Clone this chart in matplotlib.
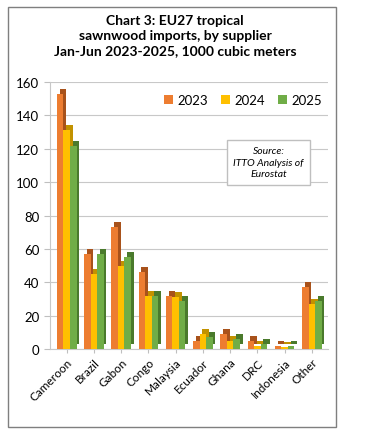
import matplotlib.pyplot as plt
import numpy as np
from matplotlib.patches import Rectangle

plt.rcParams['font.family'] = ['Lato', 'DejaVu Sans']

suppliers = ["Cameroon", "Brazil", "Gabon", "Congo", "Malaysia", "Ecuador",
             "Ghana", "DRC", "Indonesia", "Other"]
v2023 = [153, 57, 73, 46, 32, 5, 9, 5, 2, 37]
v2024 = [131, 45, 50, 32, 31, 9, 5, 2, 1.5, 27]
v2025 = [122, 57, 55, 32, 29, 7, 6, 3, 2, 29]
years = ["2023", "2024", "2025"]

face = ["#ED7D31", "#FFC000", "#70AD47"]
side = ["#A8521B", "#C29200", "#4A7A2C"]

fig = plt.figure(figsize=(3.73, 4.35), dpi=100)
fig.patches.append(Rectangle((8 / 373, 1 - 428 / 435), 328 / 373, 420 / 435,
                             transform=fig.transFigure, fill=False,
                             edgecolor="#7f7f7f", linewidth=1.0))

ax = fig.add_axes([0.135, 0.195, 0.745, 0.614])

x = np.arange(len(suppliers))
w = 0.24
dx, dy = 0.1, 3.0
for i, vals in enumerate([v2023, v2024, v2025]):
    xi = x + (i - 1) * w
    # darker depth face behind each bar
    ax.bar(xi + dx, vals, w, bottom=dy, color=side[i], zorder=2 + i * 2)
    ax.bar(xi, vals, w, color=face[i], zorder=3 + i * 2, label=years[i])

ax.set_ylim(0, 160)
ax.set_yticks(range(0, 161, 20))
ax.set_xlim(-0.6, len(suppliers) - 0.4)
ax.set_xticks(x)
ax.set_xticklabels(suppliers, rotation=45, ha="right", rotation_mode="anchor",
                   fontsize=8.5)
ax.tick_params(axis="y", labelsize=9.5, length=4, color="#bfbfbf", pad=4)
ax.tick_params(axis="x", length=3, color="#bfbfbf", pad=2)
ax.grid(axis="y", color="#c8c8c8", linewidth=0.8, zorder=0)
ax.set_axisbelow(True)
for s in ["top", "right"]:
    ax.spines[s].set_visible(False)
ax.spines["left"].set_color("#c8c8c8")
ax.spines["bottom"].set_color("#c8c8c8")

fig.text(0.47, 0.965, "Chart 3: EU27 tropical\nsawnwood imports, by supplier\nJan-Jun 2023-2025, 1000 cubic meters",
         ha="center", va="top", fontsize=10, fontweight="bold", linespacing=1.3)

ax.legend(loc="upper right", bbox_to_anchor=(1.02, 1.0), ncol=3, frameon=False,
          fontsize=9.5, handlelength=0.7, handleheight=0.7, columnspacing=1.0,
          handletextpad=0.3)

fig.text(0.72, 0.625, "Source:\nITTO Analysis of\nEurostat", ha="center", va="center",
         fontsize=7.5, style="italic", linespacing=1.4,
         bbox=dict(boxstyle="square,pad=0.6", facecolor="white", edgecolor="#bfbfbf"))

fig.savefig("out.png", dpi=100)
